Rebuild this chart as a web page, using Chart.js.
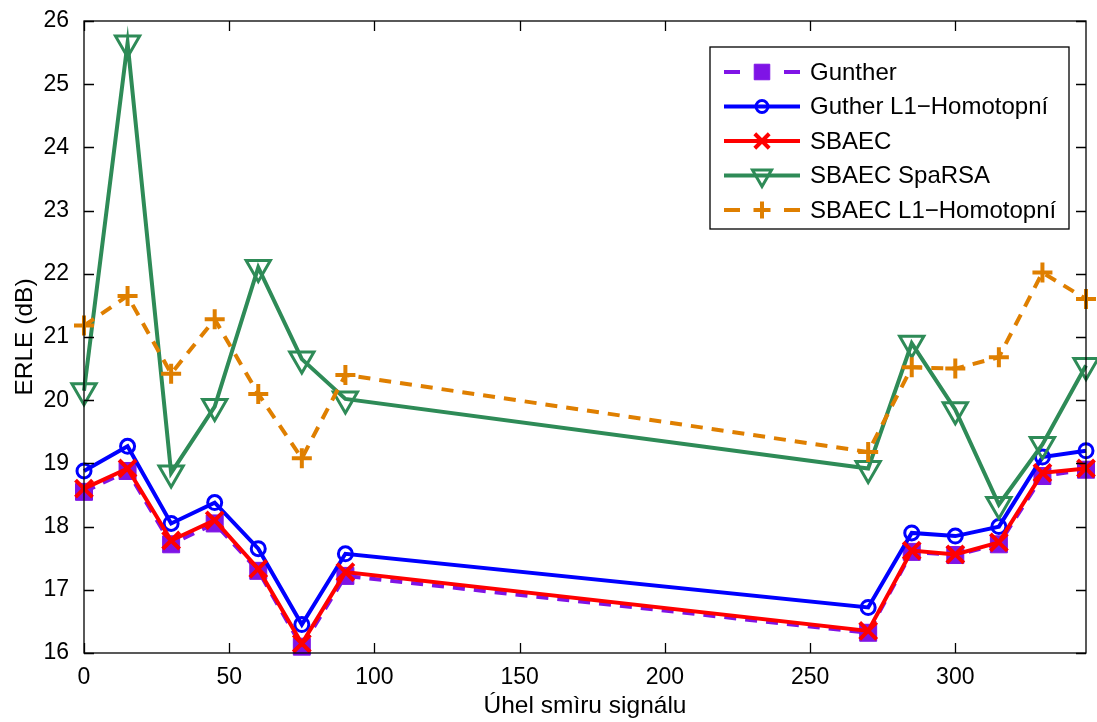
<!DOCTYPE html>
<html lang="cs">
<head>
<meta charset="UTF-8">
<title>ERLE</title>
<script src="https://cdn.jsdelivr.net/npm/chart.js"></script>
<style>
    html, body { margin: 0; padding: 0; background: #fff; }
    #obal { width: 1097px; height: 722px; }
</style>
</head>
<body>
<div id="obal"><canvas id="graf"></canvas></div>
<script>
    // uhly (x) a hodnoty ERLE v dB
    var uhly = [0, 15, 30, 45, 60, 75, 90, 270, 285, 300, 315, 330, 345];
    var gunther = [18.55, 18.88, 17.72, 18.05, 17.30, 16.10, 17.22, 16.32, 17.60, 17.55, 17.72, 18.80, 18.90];
    var gutherL1 = [18.88, 19.27, 18.05, 18.38, 17.65, 16.45, 17.57, 16.72, 17.90, 17.85, 18.00, 19.10, 19.20];
    var sbaec = [18.60, 18.92, 17.78, 18.10, 17.33, 16.15, 17.28, 16.35, 17.62, 17.56, 17.75, 18.85, 18.92];
    var sparsa = [20.15, 25.65, 18.85, 19.90, 22.10, 20.65, 20.02, 18.92, 20.90, 19.85, 18.35, 19.30, 20.55];
    var sbaecL1 = [21.18, 21.65, 20.42, 21.28, 20.10, 19.08, 20.40, 19.18, 20.52, 20.50, 20.68, 22.02, 21.60];

    var xTicky = [0, 50, 100, 150, 200, 250, 300];
    var yTicky = [16, 17, 18, 19, 20, 21, 22, 23, 24, 25, 26];

    function body(hodnoty) {
        return uhly.map(function (u, i) { return { x: u, y: hodnoty[i] }; });
    }

    var rodina = "'Liberation Sans', Arial, sans-serif";
    var pismo = { family: rodina, size: 23 };
    var pismoTitulek = { family: rodina, size: 24.5 };

    var sady = [
        { label: 'Gunther', data: body(gunther), borderColor: '#7f14e6', backgroundColor: '#7f14e6',
          borderDash: [12, 9], pointStyle: 'rect', pointRadius: 12, pointBorderWidth: 1, order: 5 },
        { label: 'Guther L1\u2212Homotopní', data: body(gutherL1), borderColor: '#0000ff', backgroundColor: 'rgba(0,0,0,0)',
          pointStyle: 'circle', pointRadius: 7, pointBorderWidth: 3, order: 4 },
        { label: 'SBAEC', data: body(sbaec), borderColor: '#ff0000', backgroundColor: '#ff0000',
          pointStyle: 'crossRot', pointRadius: 12, pointBorderWidth: 4, order: 3 },
        { label: 'SBAEC SpaRSA', data: body(sparsa), borderColor: '#2e8b57', backgroundColor: 'rgba(0,0,0,0)',
          pointStyle: 'triangle', pointRotation: 180, pointRadius: 14, pointBorderWidth: 3, order: 2 },
        { label: 'SBAEC L1\u2212Homotopní', data: body(sbaecL1), borderColor: '#df7f00', backgroundColor: '#df7f00',
          borderDash: [12, 9], pointStyle: 'cross', pointRadius: 10, pointBorderWidth: 4, order: 1 }
    ];
    sady.forEach(function (s) {
        s.borderWidth = 4;
        s.tension = 0;
        s.clip = false;
        s.pointBackgroundColor = s.backgroundColor;
        s.pointBorderColor = s.borderColor;
        s.pointHoverRadius = s.pointRadius;
    });

    // ramecek + ticky dovnitr (jako v matlabu)
    var ramecek = {
        id: 'ramecek',
        afterDatasetsDraw: function (chart) {
            var c = chart.ctx, a = chart.chartArea;
            var sx = chart.scales.x, sy = chart.scales.y;
            c.save();
            c.strokeStyle = '#000';
            c.lineWidth = 1.3;
            c.strokeRect(a.left, a.top, a.right - a.left, a.bottom - a.top);
            c.beginPath();
            xTicky.forEach(function (v) {
                var px = Math.round(sx.getPixelForValue(v)) + 0.5;
                c.moveTo(px, a.bottom); c.lineTo(px, a.bottom - 10);
                c.moveTo(px, a.top); c.lineTo(px, a.top + 10);
            });
            yTicky.forEach(function (v) {
                var py = Math.round(sy.getPixelForValue(v)) + 0.5;
                c.moveTo(a.left, py); c.lineTo(a.left + 10, py);
                c.moveTo(a.right, py); c.lineTo(a.right - 10, py);
            });
            c.stroke();
            c.restore();
        }
    };

    // legenda uvnitr grafu vpravo nahore
    var legenda = {
        id: 'legenda',
        afterDraw: function (chart) {
            var c = chart.ctx;
            var bx = 710, by = 47, bw = 359, bh = 182;
            c.save();
            c.fillStyle = '#fff';
            c.fillRect(bx, by, bw, bh);
            c.strokeStyle = '#000';
            c.lineWidth = 1.3;
            c.strokeRect(bx, by, bw, bh);
            c.font = '24px ' + rodina;
            c.textBaseline = 'middle';
            sady.forEach(function (s, i) {
                var y = by + 25 + i * 34.5;
                c.strokeStyle = s.borderColor;
                c.lineWidth = 4;
                c.beginPath();
                if (s.borderDash) {
                    c.moveTo(724, y); c.lineTo(740, y);
                    c.moveTo(784, y); c.lineTo(800, y);
                } else {
                    c.moveTo(724, y); c.lineTo(800, y);
                }
                c.stroke();
                c.fillStyle = s.backgroundColor;
                c.strokeStyle = s.borderColor;
                c.lineWidth = s.pointBorderWidth;
                Chart.helpers.drawPoint(c, {
                    pointStyle: s.pointStyle,
                    rotation: s.pointRotation || 0,
                    radius: s.pointStyle === 'triangle' ? 11 : (s.pointStyle === 'rect' ? 11 : s.pointRadius * 0.85),
                    borderWidth: s.pointBorderWidth
                }, 762, y);
                c.fillStyle = '#000';
                c.fillText(s.label, 810, y + 1);
            });
            c.restore();
        }
    };

    var graf = new Chart(document.getElementById('graf'), {
        type: 'line',
        data: { datasets: sady },
        options: {
            responsive: true,
            maintainAspectRatio: false,
            animation: false,
            layout: { autoPadding: false, padding: { top: 21, right: 11, left: 0, bottom: 0 } },
            plugins: { legend: { display: false }, tooltip: { enabled: false } },
            scales: {
                x: {
                    type: 'linear', min: 0, max: 345,
                    afterBuildTicks: function (s) { s.ticks = xTicky.map(function (v) { return { value: v }; }); },
                    afterFit: function (s) { s.height = 69; s.paddingLeft = 0; s.paddingRight = 0; },
                    grid: { display: false },
                    border: { display: false },
                    ticks: { color: '#000', font: pismo, padding: 3, maxRotation: 0 },
                    title: { display: true, text: 'Úhel smìru signálu', color: '#000', font: pismoTitulek, padding: { top: 0, bottom: 1 } }
                },
                y: {
                    type: 'linear', min: 16, max: 26,
                    afterBuildTicks: function (s) { s.ticks = yTicky.map(function (v) { return { value: v }; }); },
                    afterFit: function (s) { s.width = 84; s.paddingTop = 0; s.paddingBottom = 0; },
                    grid: { display: false },
                    border: { display: false },
                    ticks: { color: '#000', font: pismo, padding: 7 },
                    title: { display: true, text: 'ERLE (dB)', color: '#000', font: pismoTitulek, padding: { top: 11, bottom: 0 } }
                }
            }
        },
        plugins: [ramecek, legenda]
    });
</script>
</body>
</html>
